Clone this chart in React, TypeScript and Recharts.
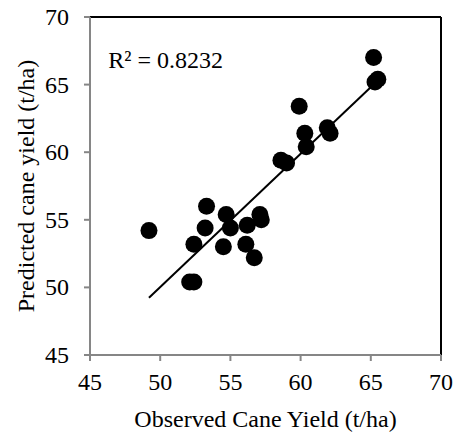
import React from 'react';
import { ScatterChart, Scatter, XAxis, YAxis, ReferenceLine, ReferenceDot, Label } from 'recharts';

const observed = [65.2, 65.3, 65.5, 59.9, 60.3, 60.4, 61.9, 62.1, 58.6, 59.0, 49.2, 53.3, 54.7, 53.2, 55.0, 56.2, 57.1, 57.2, 52.4, 54.5, 56.1, 56.7, 52.1, 52.4];
const predicted = [67.0, 65.2, 65.4, 63.4, 61.4, 60.4, 61.8, 61.4, 59.4, 59.2, 54.2, 56.0, 55.4, 54.4, 54.4, 54.6, 55.4, 55.0, 53.2, 53.0, 53.2, 52.2, 50.4, 50.4];
const xTicks = [45, 50, 55, 60, 65, 70];
const yTicks = [45, 50, 55, 60, 65, 70];
const r2Label = 'R² = 0.8232';
const r2Pos = { x: 46.3, y: 66.85 };

const points = observed.map((x, i) => ({ x, y: predicted[i] }));

// least-squares trendline from the data
const n = observed.length;
const mx = observed.reduce((a, b) => a + b, 0) / n;
const my = predicted.reduce((a, b) => a + b, 0) / n;
let sxy = 0, sxx = 0;
for (let i = 0; i < n; i++) {
  sxy += (observed[i] - mx) * (predicted[i] - my);
  sxx += (observed[i] - mx) ** 2;
}
const slope = sxy / sxx;
const intercept = my - slope * mx;
const xMin = Math.min(...observed);
const xMax = Math.max(...observed);
const trend = [
  { x: xMin, y: intercept + slope * xMin },
  { x: xMax, y: intercept + slope * xMax },
];

const FONT = '"Liberation Serif", "Times New Roman", serif';
const FS = 24;
const AXIS_GRAY = '#868686';

const XTick = (p: any) => (
  <text x={p.x} y={p.y} dy="0.71em" textAnchor="middle" fill="#000" fontSize={FS} style={{ fontFamily: FONT }}>
    {p.payload.value}
  </text>
);
const YTick = (p: any) => (
  <text x={p.x} y={p.y} dominantBaseline="central" textAnchor="end" fill="#000" fontSize={FS} style={{ fontFamily: FONT }}>
    {p.payload.value}
  </text>
);

export default function App() {
  return (
    <div style={{ position: 'absolute', left: 0, top: 0, fontFamily: FONT }}>
      <ScatterChart width={457} height={432} margin={{ top: 17, right: 16, bottom: 0, left: 0 }}>
        <XAxis
          type="number"
          dataKey="x"
          domain={[45, 70]}
          ticks={xTicks}
          height={77}
          tickSize={6}
          tickMargin={12}
          stroke={AXIS_GRAY}
          strokeWidth={2}
          tick={XTick}
        >
          <Label
            content={() => (
              <text x={265.5} y={427} textAnchor="middle" fill="#000" fontSize={FS} style={{ fontFamily: FONT }}>
                Observed Cane Yield (t/ha)
              </text>
            )}
          />
        </XAxis>
        <YAxis
          type="number"
          dataKey="y"
          domain={[45, 70]}
          ticks={yTicks}
          width={90}
          tickSize={6}
          tickMargin={15}
          stroke={AXIS_GRAY}
          strokeWidth={2}
          tick={YTick}
        >
          <Label
            content={() => (
              <text
                x={26}
                y={186}
                transform="rotate(-90, 26, 186)"
                textAnchor="middle"
                dominantBaseline="central"
                fill="#000"
                fontSize={FS}
                style={{ fontFamily: FONT }}
              >
                Predicted cane yield (t/ha)
              </text>
            )}
          />
        </YAxis>
        <ReferenceLine y={70} stroke="#000" strokeWidth={2} />
        <ReferenceLine x={70} stroke="#000" strokeWidth={2} />
        <ReferenceLine segment={trend} stroke="#000" strokeWidth={2} />
        <Scatter
          data={points}
          isAnimationActive={false}
          shape={(p: any) => <circle cx={p.cx} cy={p.cy} r={8.5} fill="#000" />}
        />
        <ReferenceDot
          x={r2Pos.x}
          y={r2Pos.y}
          shape={(p: any) => (
            <text x={p.cx} y={p.cy} dominantBaseline="central" fill="#000" fontSize={FS} style={{ fontFamily: FONT }}>
              {r2Label}
            </text>
          )}
        />
      </ScatterChart>
    </div>
  );
}
